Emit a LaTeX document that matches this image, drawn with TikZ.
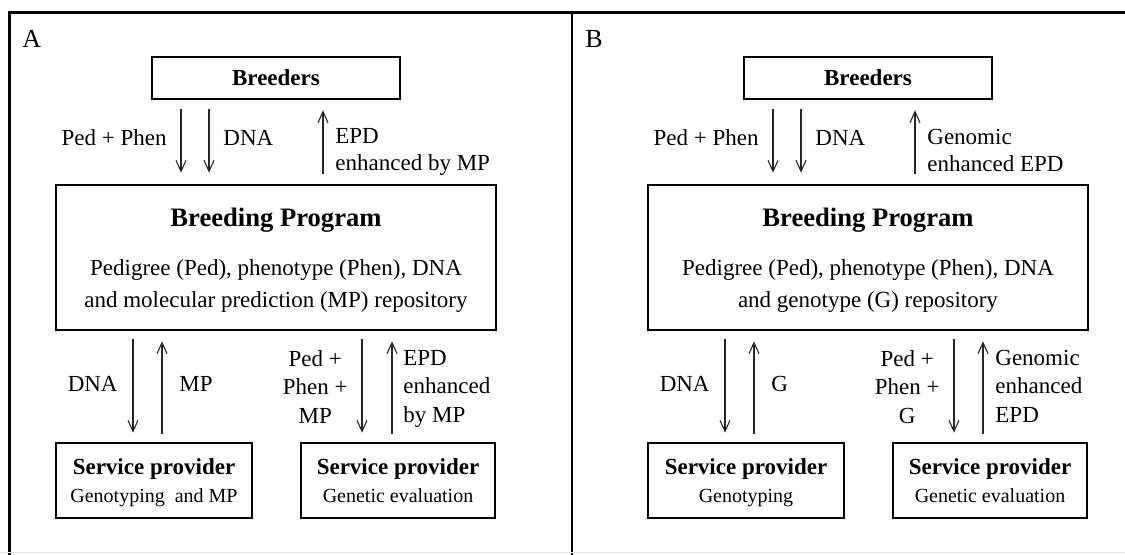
\documentclass[tikz,border=0pt]{standalone}
\usepackage{fontspec}
\setmainfont{Liberation Serif}
\usetikzlibrary{arrows.meta}

\begin{document}
\begin{tikzpicture}[x=0.5pt,y=-0.5pt,
  box/.style={draw, line width=1.35pt, inner sep=0pt},
  lbl/.style={inner sep=0pt, font=\fontsize{11.5}{13.5}\selectfont},
  lbltall/.style={inner sep=0pt, align=center, font=\fontsize{11.5}{14.25}\selectfont},
  ttl/.style={inner sep=0pt, font=\bfseries\fontsize{11.5}{14}\selectfont},
  big/.style={inner sep=0pt, font=\bfseries\fontsize{13.3}{16}\selectfont},
  sub/.style={inner sep=0pt, font=\fontsize{10}{12}\selectfont},
  flow/.style={draw=black!85, line width=0.55pt, -{Straight Barb[length=5.5pt,width=5pt]}}]
\useasboundingbox (0,0) rectangle (1125,555);

% frame
\draw[line width=1.5pt] (9,555) -- (9,13) -- (1125,13);
\draw[line width=1.1pt] (572,13) -- (572,555);
\draw[black!10] (0,552) -- (1125,552);

% arrow columns
\coordinate (cA1) at (181,0);
\coordinate (cA2) at (209,0);
\coordinate (cA3) at (323,0);
\coordinate (dA1) at (133,0);
\coordinate (dA2) at (162,0);
\coordinate (dA3) at (362,0);
\coordinate (dA4) at (392,0);
\coordinate (cB1) at (773,0);
\coordinate (cB2) at (801,0);
\coordinate (cB3) at (915,0);
\coordinate (dB1) at (725,0);
\coordinate (dB2) at (754,0);
\coordinate (dB3) at (954,0);
\coordinate (dB4) at (983,0);

% panel A
\node[anchor=base west, inner sep=0pt, font=\fontsize{13}{15}\selectfont] (labA) at (22,48) {A};
\node[box, ttl, minimum width=124pt, minimum height=21pt] (brA) at (276,78) {Breeders};
\node[box, minimum width=220pt, minimum height=72.5pt] (bpA) at (276,257.5) {};
\node[big, anchor=base] (bpAt) at (276,227) {Breeding Program};
\node[lbl, anchor=base] (bpAd1) at (276,276) {Pedigree (Ped), phenotype (Phen), DNA};
\node[lbl, anchor=base] (bpAd2) at (276,308) {and molecular prediction (MP) repository};
\node[box, minimum width=98pt, minimum height=37.5pt] (spA1) at (154,480.5) {};
\node[ttl, anchor=base] (spA1t) at (154,475) {Service provider};
\node[sub, anchor=base] (spA1d) at (154,503) {Genotyping~ and MP};
\node[box, minimum width=97pt, minimum height=37.5pt] (spA2) at (398,480.5) {};
\node[ttl, anchor=base] (spA2t) at (398,475) {Service provider};
\node[sub, anchor=base] (spA2d) at (398,503) {Genetic evaluation};

\draw[flow, shorten <=4.5pt, shorten >=5.5pt] (brA.south -| cA1) -- (bpA.north -| cA1);
\draw[flow, shorten <=4.5pt, shorten >=5.5pt] (brA.south -| cA2) -- (bpA.north -| cA2);
\draw[flow, shorten <=5pt, shorten >=5pt] (bpA.north -| cA3) -- (brA.south -| cA3);
\draw[flow, shorten <=4pt, shorten >=4.5pt] (bpA.south -| dA1) -- (spA1.north -| dA1);
\draw[flow, shorten <=4pt, shorten >=5pt] (spA1.north -| dA2) -- (bpA.south -| dA2);
\draw[flow, shorten <=4pt, shorten >=4.5pt] (bpA.south -| dA3) -- (spA2.north -| dA3);
\draw[flow, shorten <=4pt, shorten >=5pt] (spA2.north -| dA4) -- (bpA.south -| dA4);

\node[lbl, anchor=base east] (pA) at (167,146) {Ped + Phen};
\node[lbl, anchor=base west] (dnaA) at (223,146) {DNA};
\node[lbl, anchor=west, align=left] (epdA) at (335,151.5) {EPD\\enhanced by MP};
\node[lbl, anchor=base east] (dnaA2) at (118,392) {DNA};
\node[lbl, anchor=base west] (mpA) at (179,392) {MP};
\node[lbltall, anchor=east] (pA2) at (348,387) {Ped +\\Phen +\\MP};
\node[lbltall, anchor=west, align=left] (epdA2) at (403,388.5) {EPD\\enhanced\\by MP};

% panel B
\node[anchor=base west, inner sep=0pt, font=\fontsize{13}{15}\selectfont] (labB) at (585,48) {B};
\node[box, ttl, minimum width=124pt, minimum height=21pt] (brB) at (868,78) {Breeders};
\node[box, minimum width=220pt, minimum height=72.5pt] (bpB) at (868,257.5) {};
\node[big, anchor=base] (bpBt) at (868,227) {Breeding Program};
\node[lbl, anchor=base] (bpBd1) at (868,276) {Pedigree (Ped), phenotype (Phen), DNA};
\node[lbl, anchor=base] (bpBd2) at (868,308) {and genotype (G) repository};
\node[box, minimum width=98pt, minimum height=37.5pt] (spB1) at (746,480.5) {};
\node[ttl, anchor=base] (spB1t) at (746,475) {Service provider};
\node[sub, anchor=base] (spB1d) at (746,503) {Genotyping};
\node[box, minimum width=97pt, minimum height=37.5pt] (spB2) at (990,480.5) {};
\node[ttl, anchor=base] (spB2t) at (990,475) {Service provider};
\node[sub, anchor=base] (spB2d) at (990,503) {Genetic evaluation};

\draw[flow, shorten <=4.5pt, shorten >=5.5pt] (brB.south -| cB1) -- (bpB.north -| cB1);
\draw[flow, shorten <=4.5pt, shorten >=5.5pt] (brB.south -| cB2) -- (bpB.north -| cB2);
\draw[flow, shorten <=5pt, shorten >=5pt] (bpB.north -| cB3) -- (brB.south -| cB3);
\draw[flow, shorten <=4pt, shorten >=4.5pt] (bpB.south -| dB1) -- (spB1.north -| dB1);
\draw[flow, shorten <=4pt, shorten >=5pt] (spB1.north -| dB2) -- (bpB.south -| dB2);
\draw[flow, shorten <=4pt, shorten >=4.5pt] (bpB.south -| dB3) -- (spB2.north -| dB3);
\draw[flow, shorten <=4pt, shorten >=5pt] (spB2.north -| dB4) -- (bpB.south -| dB4);

\node[lbl, anchor=base east] (pB) at (759,146) {Ped + Phen};
\node[lbl, anchor=base west] (dnaB) at (815,146) {DNA};
\node[lbl, anchor=west, align=left] (epdB) at (927,151) {Genomic\\enhanced EPD};
\node[lbl, anchor=base east] (dnaB2) at (710,392) {DNA};
\node[lbl, anchor=base west] (gB) at (771,392) {G};
\node[lbltall, anchor=east] (pB2) at (940,387) {Ped +\\Phen +\\G};
\node[lbltall, anchor=west, align=left] (epdB2) at (995,386) {Genomic\\enhanced\\EPD};
\end{tikzpicture}
\end{document}
